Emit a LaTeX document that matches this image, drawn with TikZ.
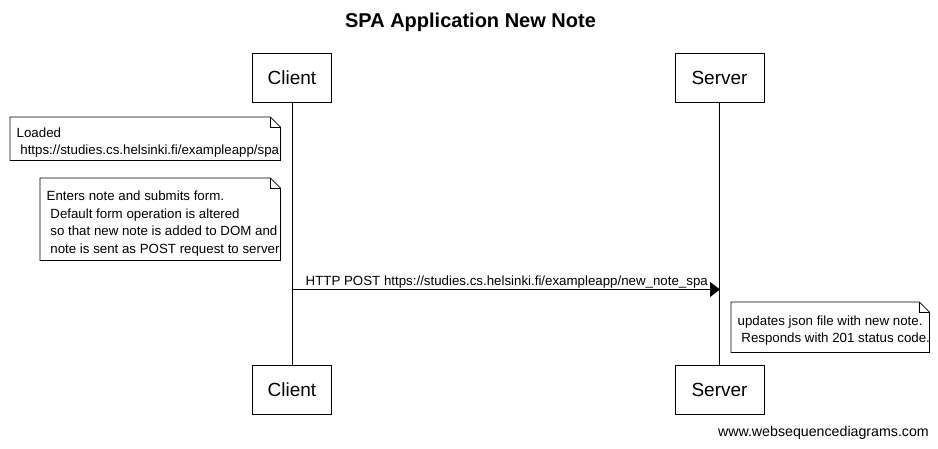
\documentclass[tikz,border=0pt]{standalone}
\usepackage{fontspec}
\setmainfont{Liberation Sans}
\usetikzlibrary{arrows.meta}
\newcommand\lsp{\hspace*{0.278em}}
\begin{document}
\begin{tikzpicture}[x=1pt,y=-1pt,
  actor/.style={draw,line width=0.8pt,minimum height=49pt,inner sep=0pt,font=\fontsize{19}{23}\selectfont},
  notebox/.style={anchor=north west,inner sep=0pt},
  notetext/.style={anchor=west,inner sep=0pt,align=left,font=\fontsize{13.3}{17.5}\selectfont},
  dogear/.style={draw,line width=0.7pt},
  msg/.style={line width=0.8pt,-{Triangle[length=10pt,width=15pt]}},
  life/.style={line width=0.8pt}]
\useasboundingbox[fill=white] (0,0) rectangle (938,448);

\node[font=\bfseries\fontsize{20}{24}\selectfont] (title) at (470.5,22) {SPA Application New Note};

\node[actor,minimum width=79pt] (ct) at (292,77.5) {Client};
\node[actor,minimum width=89pt] (st) at (719.5,77.5) {Server};
\node[actor,minimum width=79pt] (cb) at (292,389.5) {Client};
\node[actor,minimum width=89pt] (sb) at (719.5,389.5) {Server};
\draw[life] (ct.south) -- (cb.north);
\draw[life] (st.south) -- (sb.north);

% note 1
\node[notebox,minimum width=270pt,minimum height=43pt] (n1) at (10,117) {};
\draw[dogear] (n1.north west) -- ([xshift=-10pt]n1.north east) -- ([yshift=-10pt]n1.north east) -- (n1.south east) -- (n1.south west) -- cycle;
\draw[dogear] ([xshift=-10pt]n1.north east) |- ([yshift=-10pt]n1.north east);
\node[notetext] (n1t) at ([xshift=6.5pt,yshift=-4pt]n1.west) {Loaded\\\lsp https://studies.cs.helsinki.fi/exampleapp/spa};

% note 2
\node[notebox,minimum width=240pt,minimum height=82pt] (n2) at (40,178) {};
\draw[dogear] (n2.north west) -- ([xshift=-10pt]n2.north east) -- ([yshift=-10pt]n2.north east) -- (n2.south east) -- (n2.south west) -- cycle;
\draw[dogear] ([xshift=-10pt]n2.north east) |- ([yshift=-10pt]n2.north east);
\node[notetext] (n2t) at ([xshift=6.5pt,yshift=-4.5pt]n2.west) {Enters note and submits form.\\\lsp Default form operation is altered\\\lsp so that new note is added to DOM and\\\lsp note is sent as POST request to server};

% message
\coordinate (m1a) at (292,289.5);
\coordinate (m1b) at (720,289.5);
\draw[msg] (m1a) -- (m1b);
\node[anchor=south west,inner sep=0pt,font=\fontsize{13.3}{16}\selectfont] (m1l) at (305.5,288.5) {HTTP POST https://studies.cs.helsinki.fi/exampleapp/new\_note\_spa};

% note 3
\node[notebox,minimum width=198pt,minimum height=50pt] (n3) at (731,302) {};
\draw[dogear] (n3.north west) -- ([xshift=-10pt]n3.north east) -- ([yshift=-10pt]n3.north east) -- (n3.south east) -- (n3.south west) -- cycle;
\draw[dogear] ([xshift=-10pt]n3.north east) |- ([yshift=-10pt]n3.north east);
\node[notetext] (n3t) at ([xshift=6.5pt,yshift=-3.5pt]n3.west) {updates json file with new note.\\\lsp Responds with 201 status code.};

\node[anchor=east,inner sep=0pt,font=\fontsize{14.2}{17}\selectfont] (foot) at (929,433) {www.websequencediagrams.com};
\end{tikzpicture}
\end{document}
